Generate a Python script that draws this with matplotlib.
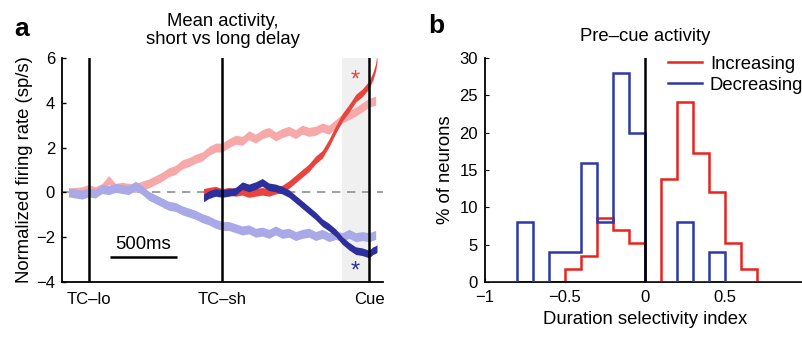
import numpy as np
import matplotlib
matplotlib.use("Agg")
import matplotlib.pyplot as plt

plt.rcParams['font.family'] = ['Liberation Sans', 'DejaVu Sans']

# ---- panel a: mean activity (time in ms relative to cue) ----
t_long = [-2250, -2200, -2150, -2100, -2050, -2000, -1950, -1900, -1850, -1800,
          -1750, -1700, -1650, -1600, -1550, -1500, -1450, -1400, -1350, -1300,
          -1250, -1200, -1150, -1100, -1050, -1000, -950, -900, -850, -800,
          -750, -700, -650, -600, -550, -500, -450, -400, -350, -300,
          -250, -200, -150, -100, -50, 0, 50]
long_inc = [0.0, 0.02, 0.05, 0.15, 0.05, 0.2, 0.55, 0.2, 0.25, 0.2,
            0.2, 0.3, 0.4, 0.55, 0.7, 0.9, 1.0, 1.25, 1.35, 1.5,
            1.6, 1.85, 2.0, 2.0, 2.2, 2.35, 2.3, 2.55, 2.4, 2.6,
            2.7, 2.5, 2.65, 2.75, 2.6, 2.8, 2.7, 2.75, 2.9, 2.8,
            3.05, 3.3, 3.45, 3.6, 3.8, 4.0, 4.1]
long_dec = [0.0, -0.05, -0.1, 0.0, -0.05, 0.15, 0.1, 0.2, 0.15, 0.1,
            0.3, 0.1, -0.15, -0.3, -0.45, -0.6, -0.65, -0.8, -0.9, -1.0,
            -1.15, -1.25, -1.4, -1.5, -1.5, -1.6, -1.7, -1.65, -1.8, -1.75,
            -1.85, -1.7, -1.85, -1.8, -1.95, -1.85, -1.8, -1.95, -1.85, -2.0,
            -1.9, -2.0, -1.85, -2.0, -1.95, -2.0, -1.9]

t_short = [-1240, -1200, -1150, -1100, -1050, -1000, -950, -900, -850, -800,
           -750, -700, -650, -600, -550, -500, -450, -400, -350, -300,
           -250, -200, -150, -100, -50, 0, 30, 50, 60]
short_inc = [0.0, 0.05, 0.1, 0.0, 0.05, 0.0, 0.05, -0.05, 0.0, 0.05,
             0.0, 0.1, 0.15, 0.35, 0.6, 0.85, 1.1, 1.45, 1.7, 2.2,
             2.8, 3.35, 3.75, 4.2, 4.45, 4.8, 5.2, 5.6, 6.0]
short_dec = [-0.25, -0.1, 0.0, -0.05, 0.0, 0.05, 0.3, 0.2, 0.3, 0.45,
             0.25, 0.2, 0.1, -0.05, -0.3, -0.55, -0.8, -1.05, -1.35, -1.55,
             -1.8, -2.15, -2.4, -2.6, -2.65, -2.75, -2.6, -2.55, -2.5]
sem_long = 0.2
sem_short = 0.17

event_times = [-2100, -1100, 0]
event_labels = ['TC\u2013lo', 'TC\u2013sh', 'Cue']

# ---- panel b: duration selectivity index histograms ----
bin_edges = [-1.0, -0.9, -0.8, -0.7, -0.6, -0.5, -0.4, -0.3, -0.2, -0.1, 0.0,
             0.1, 0.2, 0.3, 0.4, 0.5, 0.6, 0.7, 0.8, 0.9, 1.0]
pct_increasing = [0, 0, 0, 0, 0, 1.72, 3.45, 8.62, 6.9, 5.17,
                  0, 13.79, 24.14, 17.24, 12.07, 5.17, 1.72, 0, 0, 0]
pct_decreasing = [0, 0, 8, 0, 4, 4, 16, 8, 28, 20,
                  0, 0, 8, 0, 4, 0, 0, 0, 0, 0]

light_red = '#F7A9A9'
light_blue = '#A9A9E8'
dark_red = '#E8433D'
dark_blue = '#2C2F9C'

tick_fs = 12
label_fs = 13.3

fig = plt.figure(figsize=(8.03, 3.41), dpi=100)

# ---------------- panel a ----------------
ax = fig.add_axes([62 / 803, 59 / 341, 321 / 803, 224 / 341])
ax.axvspan(-200, 0, color='#F0F0F0', lw=0, zorder=0)
ax.axhline(0, color='#909090', ls=(0, (5, 4)), lw=1.2, zorder=1)

t_long_a = np.array(t_long)
t_short_a = np.array(t_short)
for vals, col in [(long_inc, light_red), (long_dec, light_blue)]:
    v = np.array(vals)
    ax.fill_between(t_long_a, v - sem_long, v + sem_long, color=col, lw=0, zorder=2)
for vals, col in [(short_inc, dark_red), (short_dec, dark_blue)]:
    v = np.array(vals)
    ax.fill_between(t_short_a, v - sem_short, v + sem_short, color=col, lw=0, zorder=3)

for te in event_times:
    ax.axvline(te, color='black', lw=1.8, zorder=4)

# scale bar
ax.plot([-1940, -1440], [-2.9, -2.9], color='black', lw=1.8, solid_capstyle='butt')
ax.text(-1690, -2.72, '500ms', ha='center', va='bottom', fontsize=13.3)

ax.text(-105, 5.0, '*', color=dark_red, ha='center', va='center', fontsize=17)
ax.text(-105, -3.55, '*', color=dark_blue, ha='center', va='center', fontsize=17)

ax.set_xlim(-2300, 105)
ax.set_ylim(-4, 6)
ax.set_yticks([-4, -2, 0, 2, 4, 6])
ax.set_yticklabels(['\u22124', '\u22122', '0', '2', '4', '6'])
ax.set_xticks(event_times)
ax.set_xticklabels(event_labels)
ax.tick_params(axis='x', length=0, pad=7, labelsize=tick_fs)
ax.tick_params(axis='y', direction='in', length=3, labelsize=tick_fs, width=1, pad=5)
for s in ['top', 'right']:
    ax.spines[s].set_visible(False)
for s in ['left', 'bottom']:
    ax.spines[s].set_linewidth(1.3)
ax.set_ylabel('Normalized firing rate (sp/s)', fontsize=label_fs, labelpad=2)
ax.set_title('Mean activity,\nshort vs long delay', fontsize=label_fs, pad=10, linespacing=1.1)
fig.text(22 / 803, 1 - 29 / 341, 'a', fontsize=19, fontweight='bold', va='center', ha='center')

# ---------------- panel b ----------------
bx = fig.add_axes([485 / 803, 59 / 341, 320 / 803, 224 / 341])
bx.stairs(pct_increasing, bin_edges, color='#E8241F', lw=1.8, label='Increasing', zorder=2)
bx.stairs(pct_decreasing, bin_edges, color='#2E38A6', lw=1.8, label='Decreasing', zorder=3)
bx.axvline(0, color='black', lw=1.8, zorder=4)
bx.set_xlim(-1, 1)
bx.set_ylim(0, 30)
bx.set_yticks([0, 5, 10, 15, 20, 25, 30])
bx.set_xticks([-1, -0.5, 0, 0.5, 1])
bx.set_xticklabels(['\u22121', '\u22120.5', '0', '0.5', '1'])
bx.tick_params(direction='in', length=3, labelsize=tick_fs)
bx.tick_params(axis='x', pad=6)
bx.tick_params(axis='y', pad=5)
for s in ['top', 'right']:
    bx.spines[s].set_visible(False)
for s in ['left', 'bottom']:
    bx.spines[s].set_linewidth(1.3)
bx.set_xlabel('Duration selectivity index', fontsize=label_fs, labelpad=4)
bx.set_ylabel('% of neurons', fontsize=label_fs, labelpad=4)
bx.set_title('Pre\u2013cue activity', fontsize=label_fs, pad=12)
bx.legend(loc='upper left', bbox_to_anchor=(0.572, 1.01), frameon=False, fontsize=label_fs,
          handlelength=1.85, handletextpad=0.42, labelspacing=0.22,
          borderpad=0, borderaxespad=0)
fig.text(436 / 803, 1 - 26 / 341, 'b', fontsize=19, fontweight='bold', va='center', ha='center')

fig.savefig('out.png', dpi=100)
